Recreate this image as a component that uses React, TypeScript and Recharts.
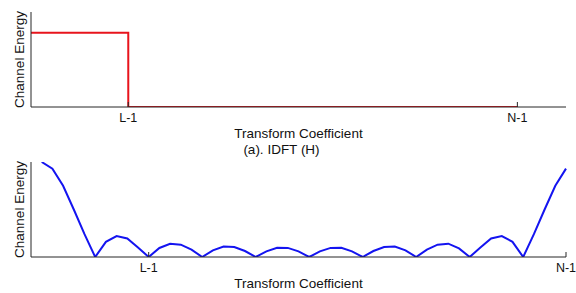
import * as React from "react";
import { LineChart, Line, XAxis, YAxis, Label } from "recharts";

// (a) channel taps: energy of the first L coefficients, zero after
const tapEnergy = [
  1, 1, 1, 1, 1, 1, 1, 1, 1, 1,
  0, 0, 0, 0, 0, 0, 0, 0, 0, 0,
  0, 0, 0, 0, 0, 0, 0, 0, 0, 0,
  0, 0, 0, 0, 0, 0, 0, 0, 0, 0,
  0, 0, 0, 0, 0, 0, 0, 0, 0, 0,
  0,
];

// (b) energy per transform coefficient
const coeffEnergy = [
  10.0, 9.3, 7.5, 5.0, 2.4, 0, 1.6, 2.2, 1.95, 1.0,
  0, 0.95, 1.4, 1.3, 0.77, 0, 0.7, 1.1, 1.05, 0.63,
  0, 0.6, 0.97, 0.96, 0.59, 0, 0.59, 0.96, 0.97, 0.6,
  0, 0.63, 1.05, 1.1, 0.7, 0, 0.77, 1.3, 1.4, 0.9,
  0, 1.0, 1.95, 2.2, 1.6, 0, 2.4, 5.0, 7.5, 9.3,
];

const topTickPos = [10, 50];
const bottomTickPos = [11, 50];
const tickNames = ["L-1", "N-1"];

const AXIS = "#262626";
const FONT = "'Liberation Sans', Arial, sans-serif";

const topData = tapEnergy.map((e, i) => ({ k: i, e }));
const bottomData = coeffEnergy.map((e, i) => ({ k: i + 1, e }));

const yLabel = (props: any) => {
  const vb = props.viewBox || {};
  const cx = vb.x + (vb.width || 0) - 11.7;
  const cy = vb.y + vb.height / 2;
  return (
    <text
      x={cx}
      y={cy}
      transform={`rotate(-90, ${cx}, ${cy})`}
      textAnchor="middle"
      dominantBaseline="central"
      fontSize={13.5}
      fontFamily={FONT}
      fill="#111"
    >
      Channel Energy
    </text>
  );
};

const captionLabel = (props: any) => {
  const vb = props.viewBox || {};
  return (
    <text
      x={vb.x + vb.width / 2 - 17}
      y={vb.y + 47}
      textAnchor="middle"
      fontSize={13.5}
      fontFamily={FONT}
      fill="#111"
    >
      (a). IDFT (H)
    </text>
  );
};

function Panel({
  data,
  domainX,
  domainY,
  ticks,
  color,
  type,
  top,
  height,
  margin,
  caption,
}: any) {
  const fmt = (v: number) => tickNames[ticks.indexOf(v)] ?? "";
  return (
    <div style={{ position: "absolute", left: 0, top }}>
      <LineChart width={576} height={height} data={data} margin={margin}>
        <XAxis
          dataKey="k"
          type="number"
          domain={domainX}
          ticks={ticks}
          interval={0}
          height={20}
          tickFormatter={fmt}
          tickSize={-5}
          tickMargin={11}
          axisLine={{ stroke: AXIS, strokeWidth: 1 }}
          tickLine={{ stroke: AXIS }}
          tick={{ fill: "#111", fontSize: 12.5, fontFamily: FONT }}
        >
          <Label
            value="Transform Coefficient"
            position="bottom"
            offset={1}
            style={{ fontSize: 13.5, fontFamily: FONT, fill: "#111" }}
          />
          {caption ? <Label content={captionLabel} /> : null}
        </XAxis>
        <YAxis
          type="number"
          domain={domainY}
          allowDataOverflow
          width={20}
          tick={false}
          tickLine={false}
          axisLine={{ stroke: AXIS, strokeWidth: 1 }}
        >
          <Label content={yLabel} />
        </YAxis>
        <Line
          dataKey="e"
          type={type}
          stroke={color}
          strokeWidth={2}
          dot={false}
          isAnimationActive={false}
        />
      </LineChart>
    </div>
  );
}

export default function App() {
  return (
    <div
      style={{
        position: "absolute",
        left: 0,
        top: 0,
        width: 576,
        height: 293,
        background: "#fff",
      }}
    >
      <Panel
        data={topData}
        domainX={[0, 55]}
        domainY={[0, 1.28]}
        ticks={topTickPos}
        color="#e8141c"
        type="stepAfter"
        top={0}
        height={160}
        margin={{ top: 12, right: 10, bottom: 33, left: 11 }}
        caption
      />
      <Panel
        data={bottomData}
        domainX={[0, 50]}
        domainY={[0, 10]}
        ticks={bottomTickPos}
        color="#1414f0"
        type="linear"
        top={135}
        height={158}
        margin={{ top: 27, right: 10, bottom: 16, left: 11 }}
      />
    </div>
  );
}
